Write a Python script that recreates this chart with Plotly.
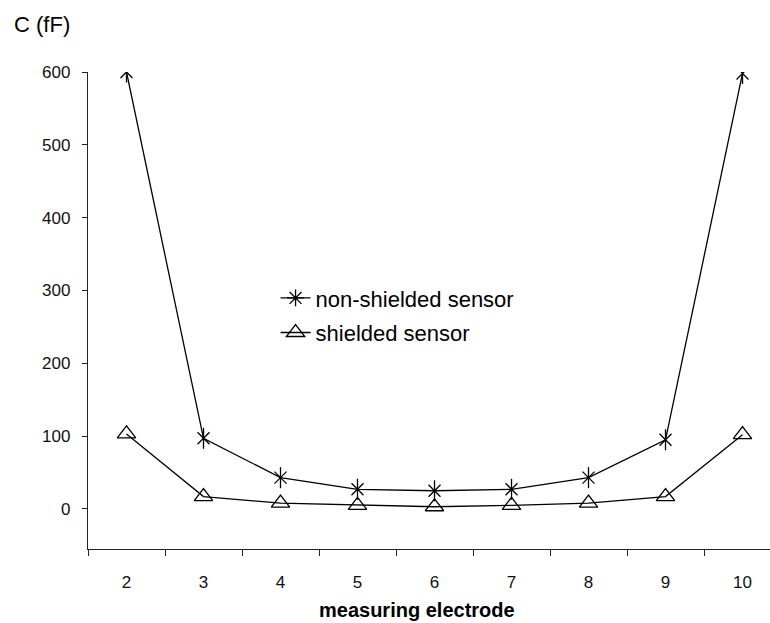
import plotly.graph_objects as go

electrodes = [2, 3, 4, 5, 6, 7, 8, 9, 10]
non_shielded = [600, 97, 43, 27, 25, 27, 43, 95, 598]
shielded = [103, 17, 8, 5, 3, 5, 8, 17, 102]
y_ticks = [0, 100, 200, 300, 400, 500, 600]

FONT = "Arial, 'Liberation Sans', sans-serif"
K = "black"
fig = go.Figure()

# non-shielded: line + X arms, plus vertical arm
fig.add_trace(go.Scatter(x=electrodes, y=non_shielded, mode="lines+markers",
                         line=dict(color=K, width=1.3),
                         marker=dict(symbol="x-thin-open", size=12, color=K, line=dict(color=K, width=1.3)),
                         showlegend=False))
fig.add_trace(go.Scatter(x=electrodes, y=non_shielded, mode="markers",
                         marker=dict(symbol="line-ns-open", size=15, color=K, line=dict(color=K, width=1.3)),
                         showlegend=False))
fig.add_trace(go.Scatter(x=electrodes, y=shielded, mode="lines+markers",
                         line=dict(color=K, width=1.3),
                         marker=dict(symbol="triangle-up-open", size=16, color=K, line=dict(color=K, width=1.3)),
                         showlegend=False))
# legend entries
fig.add_trace(go.Scatter(x=[None], y=[None], mode="lines+markers", name="non-shielded sensor",
                         legendgroup="a", line=dict(color=K, width=1.3),
                         marker=dict(symbol="asterisk-open", size=14, color=K, line=dict(color=K, width=1.3))))
fig.add_trace(go.Scatter(x=[None], y=[None], mode="lines+markers", name="shielded sensor",
                         legendgroup="b", line=dict(color=K, width=1.3),
                         marker=dict(symbol="triangle-up-open", size=16, color=K, line=dict(color=K, width=1.3))))

fig.update_layout(
    width=770, height=623,
    margin=dict(l=88, r=0, t=72, b=74),
    plot_bgcolor="white", paper_bgcolor="white",
    font=dict(family=FONT, color="#111"),
    legend=dict(x=0.275, y=0.57, xanchor="left", yanchor="top", tracegroupgap=3,
                font=dict(size=22, color=K), bgcolor="rgba(0,0,0,0)"),
    xaxis=dict(range=[1.5, 10.357], tickmode="array", tickvals=electrodes,
               ticktext=[str(e) for e in electrodes], ticks="", showline=True,
               linecolor="#222", linewidth=1.3, showgrid=False, zeroline=False,
               tickfont=dict(size=17), ticklabelstandoff=17,
               minor=dict(tickmode="array", tickvals=[1.5 + i for i in range(10)],
                          ticks="outside", ticklen=6, tickcolor="#222", tickwidth=1.3, showgrid=False)),
    yaxis=dict(range=[-55, 600], tickmode="array", tickvals=y_ticks, ticks="outside",
               ticklen=5, tickcolor="#222", tickwidth=1.3, showline=True,
               linecolor="#222", linewidth=1.3, showgrid=False, zeroline=False,
               tickfont=dict(size=17), ticklabelstandoff=8),
    annotations=[
        dict(text="measuring electrode", xref="paper", yref="paper", x=0.483, y=-0.128,
             xanchor="center", yanchor="middle", showarrow=False,
             font=dict(size=20, color=K, family=FONT, weight="bold")),
        dict(text="C (fF)", xref="paper", yref="paper", x=-0.112, y=1.1,
             xanchor="left", yanchor="middle", showarrow=False,
             font=dict(size=22, color=K)),
    ],
)

fig.write_html("out.html")
